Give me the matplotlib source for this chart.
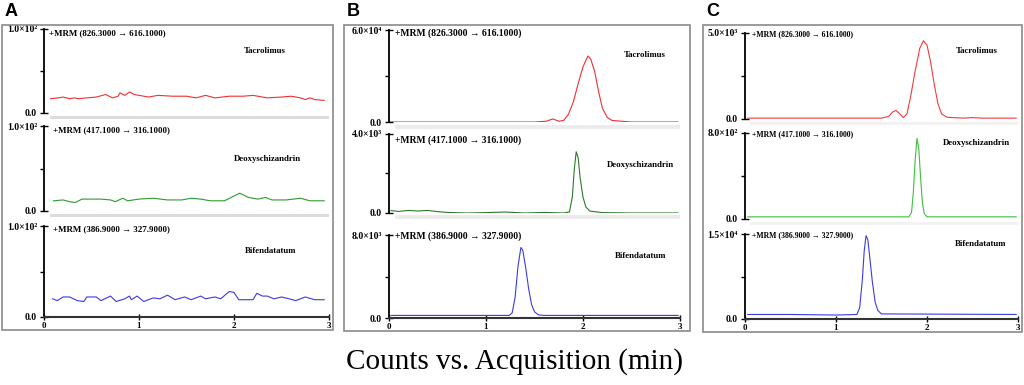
import matplotlib.pyplot as plt
from matplotlib.patches import Rectangle

# ---- panel A (blank), counts in units of 1e2 / 100 -> plotted 0..1.0 scaled to 100
a_tac_t = [0.07, 0.15, 0.2, 0.27, 0.32, 0.36, 0.45, 0.55, 0.65, 0.72, 0.78, 0.8, 0.85, 0.9, 0.95,
           1.1, 1.2, 1.35, 1.5, 1.6, 1.7, 1.8, 1.95, 2.1, 2.2, 2.35, 2.5, 2.6, 2.7, 2.75, 2.8, 2.85, 2.95]
a_tac_y = [17, 18, 19, 17, 18, 17, 18, 19, 22, 18, 20, 24, 21, 25, 22,
           19, 21, 20, 20, 18, 21, 18, 20, 20, 21, 18, 19, 20, 18, 16, 18, 16, 15]
a_deo_t = [0.1, 0.2, 0.27, 0.33, 0.4, 0.5, 0.6, 0.7, 0.75, 0.83, 0.88, 1.0, 1.15, 1.3, 1.45,
           1.55, 1.65, 1.75, 1.9, 2.06, 2.15, 2.25, 2.33, 2.4, 2.55, 2.7, 2.8, 2.9, 2.95]
a_deo_y = [12, 13, 11, 10, 14, 14, 14, 13, 11, 15, 12, 14, 15, 13, 13,
           15, 14, 12, 12, 21, 16, 14, 16, 13, 13, 15, 12, 12, 12]
a_bif_t = [0.09, 0.14, 0.2, 0.27, 0.35, 0.42, 0.45, 0.55, 0.6, 0.7, 0.76, 0.85, 0.9, 0.92, 0.98,
           1.05, 1.15, 1.22, 1.3, 1.38, 1.48, 1.55, 1.65, 1.7, 1.8, 1.86, 1.95, 2.0, 2.05, 2.2,
           2.24, 2.3, 2.35, 2.42, 2.5, 2.58, 2.65, 2.75, 2.85, 2.95]
a_bif_y = [20, 18, 22, 22, 18, 17, 22, 22, 18, 23, 17, 20, 23, 19, 23,
           17, 21, 20, 24, 19, 22, 19, 23, 20, 22, 20, 28, 27, 19, 19,
           26, 23, 23, 20, 22, 20, 18, 22, 19, 19]

# ---- panel B
b_tac_t = [0.02, 0.5, 1.0, 1.5, 1.62, 1.69, 1.75, 1.8, 1.85, 1.9, 1.95, 2.0, 2.05, 2.08,
           2.12, 2.16, 2.2, 2.25, 2.3, 2.4, 2.5, 2.98]
b_tac_y = [0, 0, 0, 0, 0.05, 0.2, 0.05, 0.1, 0.5, 1.3, 2.5, 3.6, 4.3, 4.1,
           3.3, 2.0, 0.9, 0.3, 0.1, 0.05, 0, 0]                       # x1e4
b_deo_t = [0.02, 0.1, 0.2, 0.3, 0.4, 0.5, 0.6, 0.8, 1.0, 1.2, 1.4, 1.6, 1.8, 1.86, 1.89,
           1.91, 1.93, 1.95, 1.97, 2.0, 2.03, 2.07, 2.2, 2.5, 2.98]
b_deo_y = [0.12, 0.08, 0.13, 0.1, 0.13, 0.07, 0.03, 0.0, 0.02, 0.05, 0.0, 0.03, 0.0, 0.05, 0.8,
           2.2, 3.1, 2.8, 1.8, 0.8, 0.3, 0.1, 0.02, 0.0, 0.0]            # x1e3
b_bif_t = [0.02, 1.0, 1.24, 1.27, 1.3, 1.33, 1.36, 1.38, 1.41, 1.44, 1.47, 1.5, 1.54, 1.6, 2.98]
b_bif_y = [0.25, 0.25, 0.25, 0.5, 2.0, 5.0, 6.8, 6.5, 4.8, 2.8, 1.3, 0.6, 0.3, 0.25, 0.25]  # x1e3

# ---- panel C
c_tac_t = [0.03, 1.0, 1.5, 1.58, 1.62, 1.66, 1.7, 1.74, 1.78, 1.82, 1.87, 1.92, 1.96, 2.0,
           2.04, 2.08, 2.12, 2.16, 2.22, 2.4, 2.5, 2.6, 2.98]
c_tac_y = [0.05, 0.05, 0.05, 0.15, 0.4, 0.5, 0.3, 0.08, 0.3, 1.3, 2.8, 4.1, 4.55, 4.3,
           3.3, 2.0, 0.9, 0.3, 0.1, 0.05, 0.08, 0.05, 0.05]              # x1e3
c_deo_t = [0.03, 1.5, 1.8, 1.83, 1.85, 1.87, 1.89, 1.91, 1.93, 1.95, 1.97, 2.0, 2.98]
c_deo_y = [0.2, 0.2, 0.2, 0.6, 2.5, 5.5, 7.5, 6.5, 3.8, 1.5, 0.5, 0.2, 0.2]  # x1e2
c_bif_t = [0.03, 0.5, 1.0, 1.23, 1.26, 1.29, 1.31, 1.33, 1.35, 1.37, 1.4, 1.43, 1.46, 1.5, 2.98]
c_bif_y = [0.08, 0.08, 0.07, 0.08, 0.2, 0.7, 1.2, 1.47, 1.4, 1.1, 0.65, 0.3, 0.15, 0.09, 0.08]  # x1e4

tops = {'A': [100, 100, 100], 'B': [6, 4, 8], 'C': [5, 8, 1.5]}
top_labels = {'A': ['1.0×10²', '1.0×10²', '1.0×10²'],
              'B': ['6.0×10⁴', '4.0×10³', '8.0×10³'],
              'C': ['5.0×10³', '8.0×10²', '1.5×10⁴']}
mrm_labels = ['+MRM (826.3000 → 616.1000)', '+MRM (417.1000 → 316.1000)', '+MRM (386.9000 → 327.9000)']
compounds = ['Tacrolimus', 'Deoxyschizandrin', 'Bifendatatum']
xticks = [0, 1, 2, 3]

W, H = 1024, 385
serif = ['Liberation Serif', 'DejaVu Serif']


def fx(px):
    return px / W


def fy(py):
    return 1 - py / H


fig = plt.figure(figsize=(10.24, 3.85), dpi=100)

panels = {
    'A': dict(frame=(2, 25, 333, 330), x0=44, x3=329,
              rows=[(29, 113), (126, 211), (226, 317)],
              mrm_xy=[(49, 33), (53, 130), (53, 229)], mrm_fs=6.4,
              name_xy=[(265, 51), (267, 159), (271, 251)],
              colors=['#f03030', '#2e9a2e', '#3a3ae8'], band='#dcdcdc',
              data=[(a_tac_t, a_tac_y), (a_deo_t, a_deo_y), (a_bif_t, a_bif_y)]),
    'B': dict(frame=(344, 25, 690, 331), x0=389, x3=680,
              rows=[(30, 122), (134, 213), (235, 318)],
              mrm_xy=[(395, 33), (395, 140), (395, 236)], mrm_fs=6.9,
              name_xy=[(645, 55), (640, 165), (641, 256)],
              colors=['#f03030', '#2a7a2a', '#3a3ae8'], band='#ececec',
              data=[(b_tac_t, b_tac_y), (b_deo_t, b_deo_y), (b_bif_t, b_bif_y)]),
    'C': dict(frame=(703, 25, 1022, 332), x0=745, x3=1018,
              rows=[(33, 119), (133, 219), (234, 319)],
              mrm_xy=[(752, 34), (752, 134), (752, 235)], mrm_fs=5.6,
              name_xy=[(977, 51), (976, 143), (981, 244)],
              colors=['#f03c3c', '#3cc03c', '#3a3ae8'], band='#f2f2f2',
              data=[(c_tac_t, c_tac_y), (c_deo_t, c_deo_y), (c_bif_t, c_bif_y)]),
}

for key, p in panels.items():
    l, t, r, b = p['frame']
    fig.add_artist(Rectangle((fx(l), fy(b)), fx(r - l), (b - t) / H, transform=fig.transFigure,
                             fill=False, edgecolor='#8a8a8a', lw=1.2))
    fig.text(fx(l + 3), fy(3), key, fontsize=13, fontweight='bold', family='Liberation Sans',
             ha='left', va='top')
    for i in range(3):
        top_px, zero_px = p['rows'][i]
        ymax = tops[key][i]
        ax = fig.add_axes([fx(p['x0']), fy(zero_px), fx(p['x3'] - p['x0']), (zero_px - top_px) / H])
        ax.patch.set_alpha(0)
        t, y = p['data'][i]
        ax.plot(t, y, color=p['colors'][i], lw=0.8)
        ax.set_xlim(0, 3)
        ax.set_ylim(0, ymax)
        for s in ['top', 'right']:
            ax.spines[s].set_visible(False)
        ax.spines['left'].set_linewidth(1.3)
        ax.spines['left'].set_bounds(0, ymax)
        ax.set_yticks([0, ymax])
        ax.set_yticklabels(['0.0', top_labels[key][i]], family=serif, fontsize=7, fontweight='bold')
        ax.set_yticks([ymax / 2], minor=True)
        ax.tick_params(axis='y', which='major', direction='inout', length=6, width=1, pad=2)
        ax.tick_params(axis='y', which='minor', direction='out', length=3, width=1)
        if i < 2:
            ax.spines['bottom'].set_visible(False)
            ax.set_xticks([])
            ax.add_patch(Rectangle((0.02, -0.075), 0.98, 0.045, transform=ax.transAxes,
                                   color=p['band'], clip_on=False, lw=0))
        else:
            ax.spines['bottom'].set_linewidth(1.5)
            ax.spines['bottom'].set_color('#333333')
            ax.set_xticks(xticks)
            ax.set_xticklabels([str(v) for v in xticks], family=serif, fontsize=6.5, fontweight='bold')
            ax.tick_params(axis='x', direction='inout', length=5, width=1, pad=1)
        fig.text(fx(p['mrm_xy'][i][0]), fy(p['mrm_xy'][i][1]), mrm_labels[i], family=serif,
                 fontsize=p['mrm_fs'], fontweight='bold', ha='left', va='center')
        fig.text(fx(p['name_xy'][i][0]), fy(p['name_xy'][i][1]), compounds[i], family=serif,
                 fontsize=6.3, fontweight='bold', ha='center', va='center')

fig.text(fx(515), fy(362), 'Counts vs. Acquisition (min)', family=serif, fontsize=21,
         ha='center', va='center')

fig.savefig('out.png', dpi=100)
